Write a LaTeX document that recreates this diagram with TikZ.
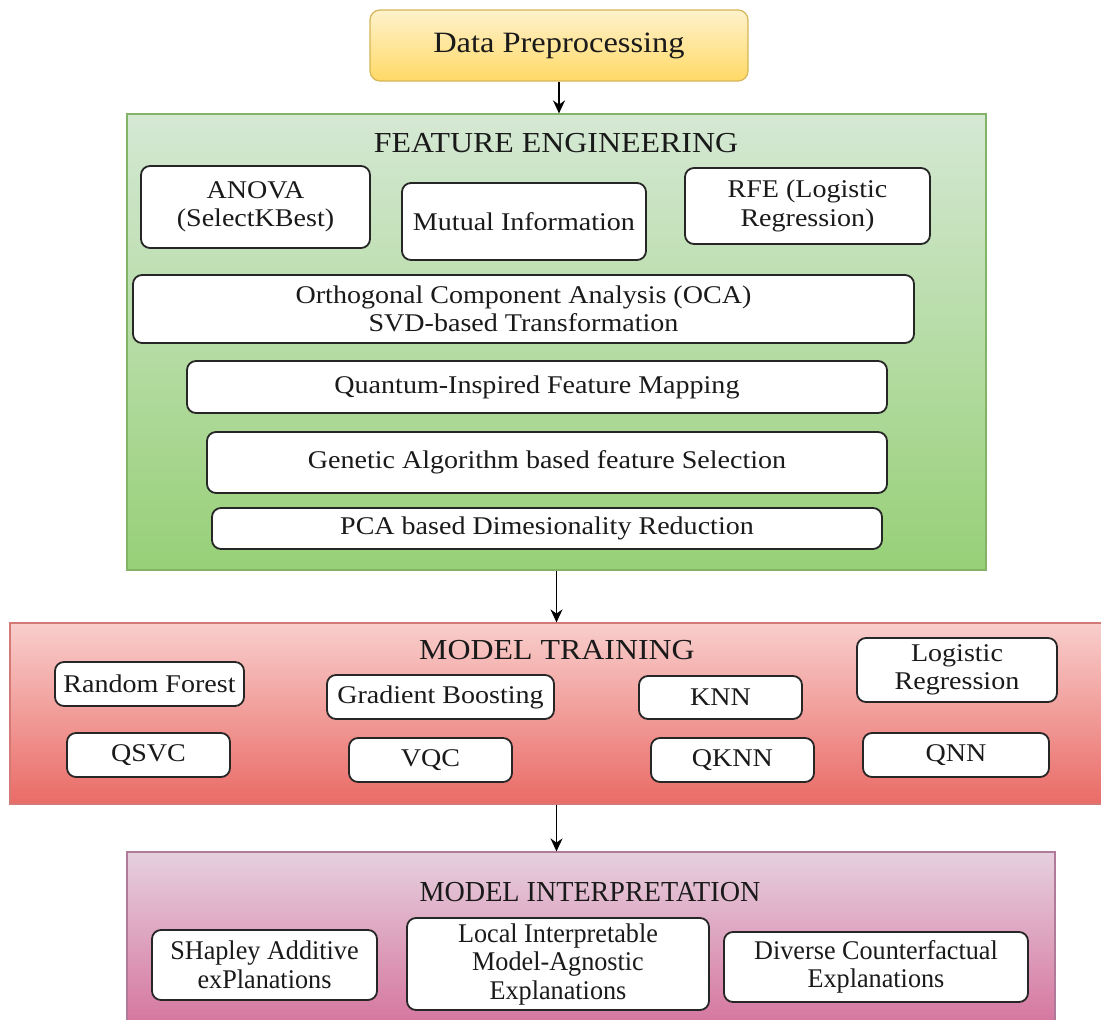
\documentclass[tikz,border=0pt]{standalone}
\usepackage{fontspec}
\setmainfont{Liberation Serif}[FakeStretch=1.1]
\newfontfamily\narrowserif{Liberation Serif}[FakeStretch=0.97]
\usetikzlibrary{arrows.meta}
\definecolor{ytop}{HTML}{FFF2CC}\definecolor{ybot}{HTML}{FFD966}\definecolor{ybrd}{HTML}{D6B656}
\definecolor{gtop}{HTML}{D5E8D4}\definecolor{gbot}{HTML}{97D077}\definecolor{gbrd}{HTML}{82B366}
\definecolor{rtop}{HTML}{F8CECC}\definecolor{rbot}{HTML}{EA6B66}\definecolor{rbrd}{HTML}{D47A76}
\definecolor{ptop}{HTML}{E6D0DE}\definecolor{pbot}{HTML}{D5739D}\definecolor{pbrd}{HTML}{B07A9A}
\definecolor{txt}{HTML}{1A1A1A}
\tikzset{
  inbox/.style={draw=black!85, fill=white, rounded corners=9pt, line width=1.8pt, align=center,
    inner sep=0pt, text=txt, font=\fontsize{25.5}{28.5}\selectfont},
  interbox/.style={inbox, font=\narrowserif\fontsize{27}{28.5}\selectfont},
  panel/.style={line width=1.2pt, inner sep=0pt},
  ttl/.style={text=txt, font=\fontsize{29}{32}\selectfont, inner sep=0pt},
  arr/.style={line width=1.6pt, -{Stealth[length=13pt,width=12pt]}}
}
\begin{document}
\begin{tikzpicture}[x=1pt,y=-1pt]
\clip (0,0) rectangle (1101,1020);
\fill[white] (0,0) rectangle (1101,1020);
% Data preprocessing
\node[draw=ybrd, top color=ytop, bottom color=ybot, rounded corners=10pt, line width=1.2pt,
  minimum width=378pt, minimum height=71pt, inner sep=0pt, text=txt,
  font=\fontsize{29.5}{32}\selectfont] (dp) at (559,45.5) {\raisebox{-3pt}{Data Preprocessing}};
% Feature engineering panel
\node[panel, draw=gbrd, top color=gtop, bottom color=gbot, minimum width=859pt, minimum height=456pt] (fe) at (556.5,342) {};
\node[ttl] (fet) at (556,143) {FEATURE ENGINEERING};
\node[inbox, minimum width=229pt, minimum height=82pt] (anova) at (255.5,207) {ANOVA\\(SelectKBest)};
\node[inbox, minimum width=244pt, minimum height=77pt] (mutual) at (524,221.5) {Mutual Information};
\node[inbox, minimum width=245pt, minimum height=76pt] (rfe) at (807.5,206) {RFE (Logistic\\Regression)};
\node[inbox, minimum width=781pt, minimum height=68pt] (oca) at (523.5,309) {Orthogonal Component Analysis (OCA)\\SVD-based Transformation};
\node[inbox, minimum width=700pt, minimum height=52pt] (qi) at (537,387) {Quantum-Inspired Feature Mapping};
\node[inbox, minimum width=680pt, minimum height=61pt] (ga) at (547,462.5) {Genetic Algorithm based feature Selection};
\node[inbox, minimum width=670pt, minimum height=41pt] (pca) at (547,528.5) {PCA based Dimesionality Reduction};
% Model training panel
\node[panel, draw=rbrd, top color=rtop, bottom color=rbot, minimum width=1095pt, minimum height=181pt] (mt) at (557.5,713.5) {};
\node[ttl] (mtt) at (557,650) {MODEL TRAINING};
\node[inbox, minimum width=189pt, minimum height=44pt] (rf) at (149.5,684) {Random Forest};
\node[inbox, minimum width=227pt, minimum height=44pt] (gb) at (440.5,697) {Gradient Boosting};
\node[inbox, minimum width=163pt, minimum height=43pt] (knn) at (720.5,697.5) {KNN};
\node[inbox, minimum width=200pt, minimum height=64pt] (lr) at (957,670) {Logistic\\Regression};
\node[inbox, minimum width=163pt, minimum height=44pt] (qsvc) at (148.5,755) {QSVC};
\node[inbox, minimum width=163pt, minimum height=44pt] (vqc) at (430.5,760) {VQC};
\node[inbox, minimum width=163pt, minimum height=44pt] (qknn) at (732.5,760) {QKNN};
\node[inbox, minimum width=186pt, minimum height=44pt] (qnn) at (956,755) {QNN};
% Model interpretation panel
\node[panel, draw=pbrd, top color=ptop, bottom color=pbot, minimum width=928pt, minimum height=178pt] (mi) at (591,941) {};
\node[ttl, font=\narrowserif\fontsize{29}{30}\selectfont] (mit) at (590,892) {MODEL INTERPRETATION};
\node[interbox, minimum width=225pt, minimum height=70pt] (shap) at (264.5,965) {SHapley Additive\\exPlanations};
\node[interbox, minimum width=302pt, minimum height=92pt] (lime) at (558,964) {Local Interpretable\\Model-Agnostic\\Explanations};
\node[interbox, minimum width=304pt, minimum height=70pt] (dice) at (876,967) {Diverse Counterfactual\\Explanations};
% arrows
\draw[arr] (dp.south) -- (dp.south |- fe.north);
\draw[arr] (fe.south) -- (fe.south |- mt.north);
\draw[arr] (fe.south |- mt.south) -- (fe.south |- mi.north);
\end{tikzpicture}
\end{document}
